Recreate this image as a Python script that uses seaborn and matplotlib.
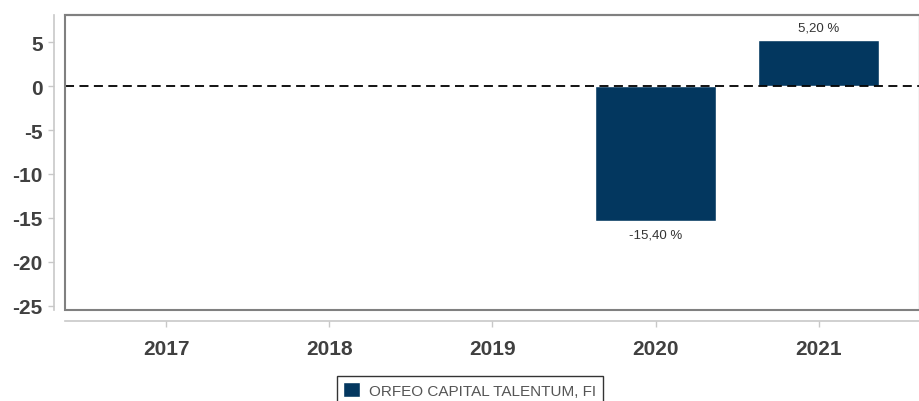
import pandas as pd
import seaborn as sns
import matplotlib.pyplot as plt
from matplotlib.patches import Rectangle
import numpy as np

# data
years = ['2017', '2018', '2019', '2020', '2021']
returns = [np.nan, np.nan, np.nan, -15.40, 5.20]
fund = 'ORFEO CAPITAL TALENTUM, FI'

data = pd.DataFrame({'Año': years, 'Rentabilidad': returns, 'Fondo': fund})

sns.set_style('white')
plt.rcParams['font.family'] = ['Liberation Sans', 'DejaVu Sans']
plt.rcParams['axes.unicode_minus'] = False

fig = plt.figure(figsize=(9.2, 4.02), dpi=100)
ax = fig.add_axes([65 / 920, 1 - 311 / 402, 1 - 65 / 920, (311 - 16) / 402])

sns.barplot(data=data, x='Año', y='Rentabilidad', hue='Fondo', order=years,
            palette=['#03375f'], saturation=1, width=0.74, ax=ax, legend=True)

ax.set_ylim(-25.5, 8.1)
ax.set_xlim(-0.62, 4.62)
ax.axhline(0, color='black', lw=1.3, ls=(0, (5, 3)), zorder=1)

# etiquetas de valor
for i, v in enumerate(returns):
    if np.isnan(v):
        continue
    txt = f'{v:.2f}'.replace('.', ',') + ' %'
    if v >= 0:
        ax.annotate(txt, (i, v), xytext=(0, 5), textcoords='offset points',
                    ha='center', va='bottom', fontsize=9.5, color='#333333')
    else:
        ax.annotate(txt, (i, v), xytext=(0, -5), textcoords='offset points',
                    ha='center', va='top', fontsize=9.5, color='#333333')

ax.set_yticks([5, 0, -5, -10, -15, -20, -25])
ax.set_xlabel('')
ax.set_ylabel('')

# ejes separados del marco
for side in ['left', 'bottom']:
    ax.spines[side].set_position(('outward', 8))
    ax.spines[side].set_color('#c8c8c8')
    ax.spines[side].set_linewidth(1.2)
for side in ['top', 'right']:
    ax.spines[side].set_color('#808080')
    ax.spines[side].set_linewidth(1.5)
ax.add_patch(Rectangle((0, 0), 1, 1, transform=ax.transAxes, fill=False,
                       edgecolor='#808080', lw=1.5, clip_on=False, zorder=5))

ax.tick_params(axis='both', length=4, width=1, color='#c8c8c8', labelsize=15,
               labelcolor='#404040', bottom=True, left=True)
ax.tick_params(axis='y', pad=4)
ax.tick_params(axis='x', pad=9)
for lab in ax.get_xticklabels() + ax.get_yticklabels():
    lab.set_fontweight('bold')

leg = ax.legend(loc='upper center', bbox_to_anchor=((470 - 65) / 855, -0.225),
                bbox_transform=ax.transAxes,
                frameon=True, fancybox=False, edgecolor='black', fontsize=11,
                handlelength=1.1, handleheight=1.1, handletextpad=0.6,
                borderpad=0.4, borderaxespad=0)
leg.get_frame().set_linewidth(1.0)
for t in leg.get_texts():
    t.set_color('#555555')

fig.savefig('out.png', dpi=100)
